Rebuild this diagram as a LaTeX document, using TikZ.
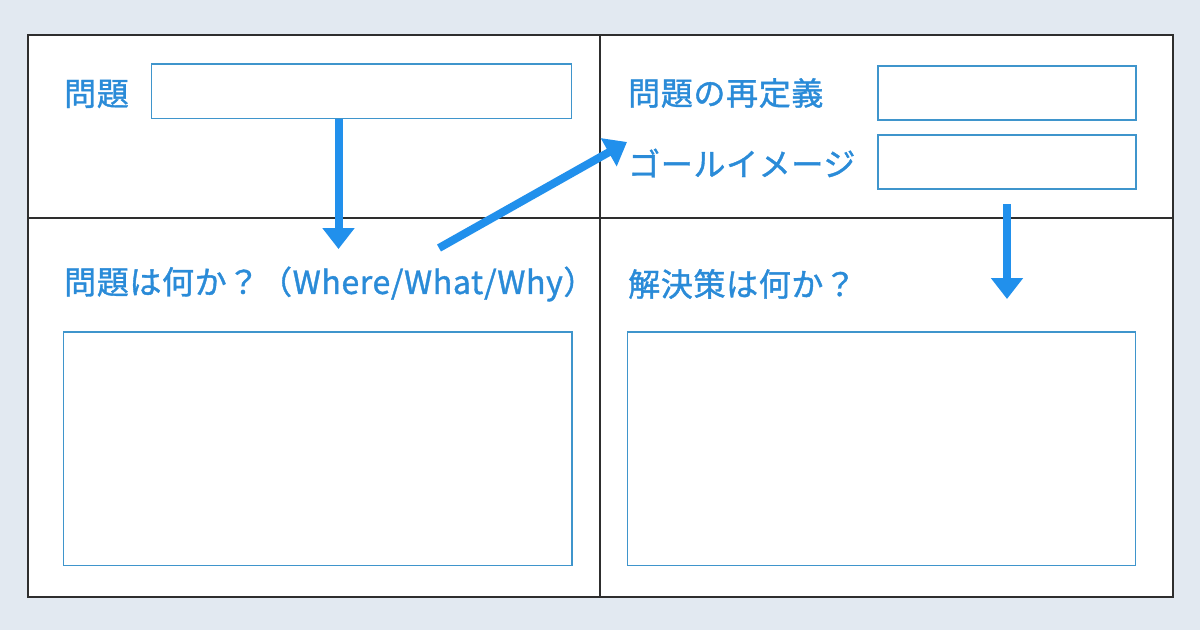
\documentclass[tikz,border=0pt]{standalone}
\usepackage{fontspec}
\setmainfont{Noto Sans CJK JP}
\newfontfamily\lblfont{Noto Sans CJK JP}[FakeBold=1.2, LetterSpace=2]
\usetikzlibrary{arrows.meta}
\definecolor{bgc}{HTML}{E2E9F1}
\definecolor{txtc}{HTML}{2A8BD8}
\definecolor{arrc}{HTML}{2190EC}
\definecolor{boxc}{HTML}{3F95CC}
\definecolor{framec}{HTML}{2E2E2E}
\tikzset{
  lbl/.style={anchor=west, inner sep=0pt, text=txtc, font=\lblfont\fontsize{32}{36}\selectfont},
  inbox/.style={draw=boxc, line width=1.6pt, fill=white},
  bigarrow/.style={draw=arrc, line width=8pt, -{Triangle[length=21pt,width=31pt]}},
}
\begin{document}
\begin{tikzpicture}[x=1pt,y=-1pt]
\fill[bgc] (0,0) rectangle (1200,630);
\useasboundingbox (0,0) rectangle (1200,630);
% outer frame
\node[draw=framec, fill=white, line width=1.6pt, minimum width=1145pt, minimum height=562pt, inner sep=0pt, anchor=north west] (frame) at (27,34) {};
\coordinate (vt) at (600,34);
\coordinate (vb) at (600,596);
\coordinate (hl) at (27,218);
\coordinate (hr) at (1172,218);
\draw[framec, line width=1.3pt] (vt) -- (vb);
\draw[framec, line width=1.3pt] (hl) -- (hr);
% boxes
\draw[inbox] (151.5,64) rectangle (571.5,118.5);
\draw[inbox] (878,66) rectangle (1136,120);
\draw[inbox] (878,135) rectangle (1136,189);
\draw[inbox] (63.5,332) rectangle (572,565.5);
\draw[inbox] (627.5,332) rectangle (1135.5,565.5);
% labels
\node[lbl] (t1) at (64,94) {問題};
\node[lbl] (t2) at (64,284) {問題は何か？（Where/What/Why）};
\node[lbl] (t3) at (628,93) {問題の再定義};
\node[lbl] (t4) at (628,163) {ゴールイメージ};
\node[lbl] (t5) at (628,284) {解決策は何か？};
% arrows
\coordinate (a1s) at (338.5,118.5);
\coordinate (a1e) at (338.5,249);
\draw[bigarrow] (a1s) -- (a1e);
\coordinate (a2s) at (439,248);
\coordinate (a2e) at (627,142);
\draw[bigarrow] (a2s) -- (a2e);
\coordinate (a3s) at (1007,204);
\coordinate (a3e) at (1007,299);
\draw[bigarrow] (a3s) -- (a3e);
\end{tikzpicture}
\end{document}
